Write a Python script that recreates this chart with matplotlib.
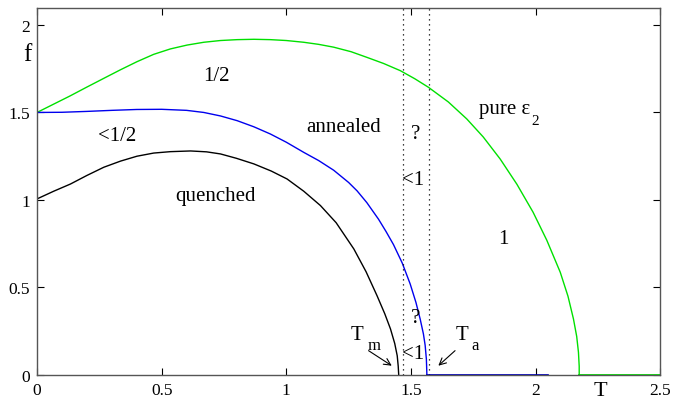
import matplotlib
matplotlib.use("Agg")
import matplotlib.pyplot as plt

# ---------------------------------------------------------------------------
# Data
# ---------------------------------------------------------------------------

pure_T = [0.0, 0.066, 0.132, 0.2, 0.268, 0.335, 0.401, 0.468, 0.535, 0.602,
          0.669, 0.736, 0.803, 0.87, 0.936, 1.0, 1.07, 1.13, 1.19, 1.26,
          1.323, 1.39, 1.457, 1.515, 1.57, 1.65, 1.724, 1.79, 1.858, 1.925,
          1.99, 2.045, 2.099, 2.13, 2.152, 2.165, 2.172, 2.175, 2.175]
pure_f = [1.5, 1.547, 1.594, 1.645, 1.695, 1.744, 1.79, 1.832, 1.863, 1.885,
          1.901, 1.911, 1.916, 1.918, 1.916, 1.911, 1.901, 1.889, 1.873, 1.847,
          1.815, 1.78, 1.739, 1.693, 1.644, 1.56, 1.463, 1.36, 1.234, 1.09,
          0.93, 0.77, 0.587, 0.45, 0.32, 0.22, 0.13, 0.05, 0.0]

anneal_T = [0.0, 0.1, 0.2, 0.3, 0.4, 0.5, 0.6, 0.669, 0.736, 0.803,
            0.87, 0.936, 1.0, 1.07, 1.13, 1.19, 1.25, 1.284, 1.323, 1.37,
            1.4, 1.43, 1.465, 1.497, 1.52, 1.537, 1.55, 1.557, 1.562, 1.564]
anneal_f = [1.5, 1.501, 1.506, 1.512, 1.517, 1.518, 1.512, 1.5, 1.48, 1.453,
            1.418, 1.377, 1.33, 1.272, 1.225, 1.17, 1.1, 1.052, 0.985, 0.89,
            0.82, 0.745, 0.64, 0.52, 0.415, 0.32, 0.235, 0.17, 0.09, 0.0]

quench_T = [0.0, 0.067, 0.134, 0.2, 0.268, 0.335, 0.401, 0.468, 0.535, 0.616,
            0.68, 0.736, 0.8, 0.87, 0.94, 1.003, 1.07, 1.137, 1.2, 1.271,
            1.32, 1.364, 1.395, 1.418, 1.435, 1.445, 1.449, 1.451]
quench_f = [1.006, 1.05, 1.091, 1.14, 1.187, 1.222, 1.25, 1.268, 1.276, 1.28,
            1.275, 1.263, 1.238, 1.206, 1.165, 1.12, 1.05, 0.968, 0.87, 0.72,
            0.59, 0.453, 0.35, 0.263, 0.18, 0.11, 0.05, 0.0]

# f = 0 tails of the curves
anneal_tail_T = [1.564, 2.05]
pure_tail_T   = [2.175, 2.5]

T_dotted = [1.467, 1.572]

# region labels: (T, f, text)
region_labels = [
    (0.718, 1.71,  "1/2"),
    (0.321, 1.371, "<1/2"),
    (1.229, 1.421, "annealed"),
    (0.718, 1.025, "quenched"),
    (1.52,  1.377, "?"),
    (1.508, 1.116, "<1"),
    (1.52,  0.33,  "?"),
    (1.508, 0.124, "<1"),
    (1.869, 0.777, "1"),
]

x_ticks = [0, 0.5, 1, 1.5, 2, 2.5]
x_tick_labels = ["0", "0.5", "1", "1.5", "2", "2.5"]
y_ticks = [0, 0.5, 1, 1.5, 2]
y_tick_labels = ["0", "0.5", "1", "1.5", "2"]

# ---------------------------------------------------------------------------
# Plot
# ---------------------------------------------------------------------------

plt.rcParams["font.family"] = ["Liberation Serif", "DejaVu Serif"]

fig = plt.figure(figsize=(6.73, 4.02), dpi=100)
ax = fig.add_axes([0.055, 0.0647, 0.926, 0.913])

ax.plot(pure_T, pure_f, color="#00e000", lw=1.0)
ax.plot(anneal_T, anneal_f, color="#0000ee", lw=1.0)
ax.plot(quench_T, quench_f, color="black", lw=1.0)
ax.plot(anneal_tail_T, [0, 0], color="#0000aa", lw=1.2, zorder=3)
ax.plot(pure_tail_T, [0, 0], color="#00c000", lw=1.2, zorder=3)

for t in T_dotted:
    ax.axvline(t, color="black", lw=0.9, ls=(0, (1, 3)))

for t, f, s in region_labels:
    ax.text(t, f, s, ha="center", va="center", fontsize=15)

# "pure eps_2" with a hand-placed subscript
ax.text(1.876, 1.52, "pure ε", ha="center", va="center", fontsize=15)
ax.text(2.0, 1.455, "2", ha="center", va="center", fontsize=11)

# T_m and T_a with arrows
ax.text(1.283, 0.234, "T", ha="center", va="center", fontsize=15)
ax.text(1.352, 0.172, "m", ha="center", va="center", fontsize=12)
ax.annotate("", xy=(1.423, 0.053), xytext=(1.33, 0.139),
            arrowprops=dict(arrowstyle="->", lw=0.8, color="black",
                            shrinkA=0, shrinkB=0, mutation_scale=12))
ax.text(1.704, 0.234, "T", ha="center", va="center", fontsize=15)
ax.text(1.757, 0.172, "a", ha="center", va="center", fontsize=12)
ax.annotate("", xy=(1.61, 0.053), xytext=(1.677, 0.139),
            arrowprops=dict(arrowstyle="->", lw=0.8, color="black",
                            shrinkA=0, shrinkB=0, mutation_scale=12))

ax.set_xlim(0, 2.5)
ax.set_ylim(0, 2.097)
ax.set_xticks(x_ticks)
ax.set_xticklabels(x_tick_labels)
ax.set_yticks(y_ticks)
ax.set_yticklabels(y_tick_labels)
ax.tick_params(direction="in", length=5, width=0.8, top=True, right=True,
               labelsize=12.5, pad=5)

for sp in ax.spines.values():
    sp.set_color("#555555")
    sp.set_linewidth(1.0)

# axis names placed like the original
ax.text(-0.04, 1.834, "f", ha="center", va="center", fontsize=18,
        clip_on=False)
ax.text(2.26, -0.09, "T", ha="center", va="center", fontsize=16,
        clip_on=False)

fig.savefig("out.png", dpi=100)
